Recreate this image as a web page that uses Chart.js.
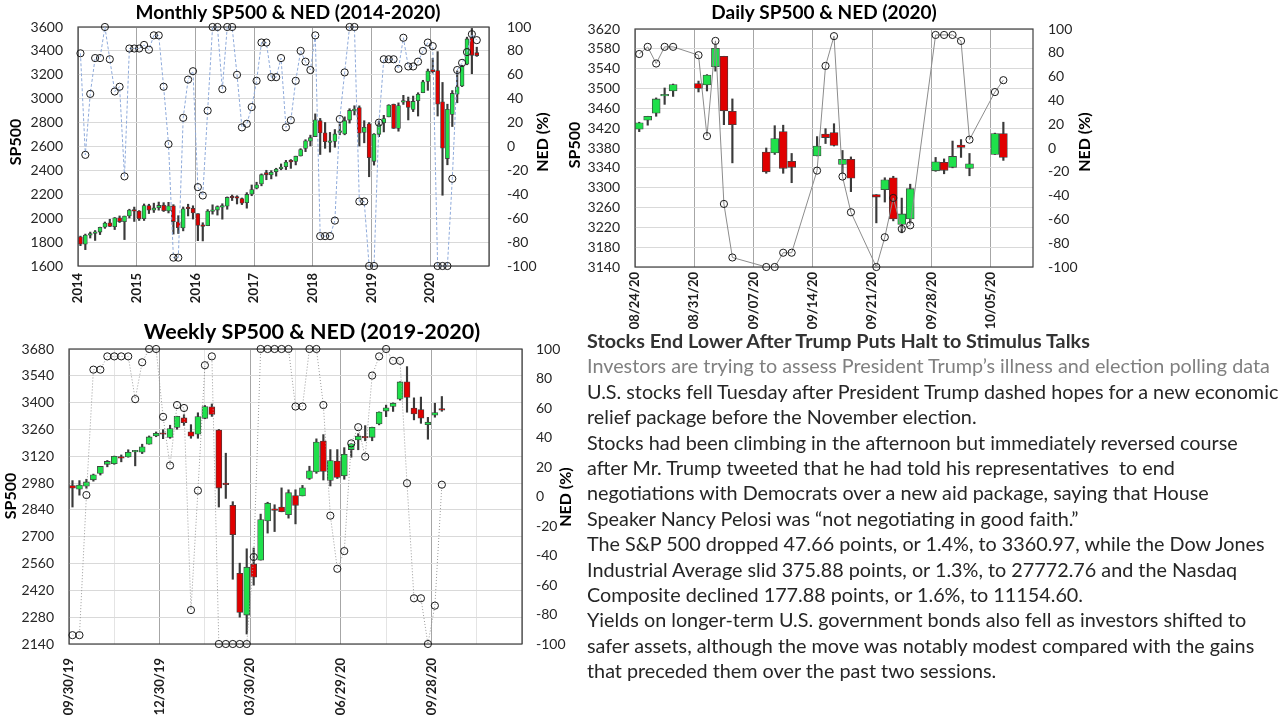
<!DOCTYPE html>
<html>
<head>
<meta charset="utf-8">
<script src="https://cdn.jsdelivr.net/npm/chart.js@4.4.1/dist/chart.umd.min.js"></script>
<style>
  body { margin: 0; width: 1280px; height: 720px; background: #fff; position: relative; overflow: hidden; font-family: Lato, "Open Sans", sans-serif; }
  .pane { position: absolute; }
  #news { position: absolute; left: 587px; top: 328px; font-size: 19.8px; line-height: 25.4px; color: #262626; white-space: nowrap; }
  #news .head { font-weight: bold; color: #333; }
  #news .sub { color: #808080; }
</style>
</head>
<body>
<div class="pane" style="left:0;top:0"><canvas id="monthly" width="560" height="315"></canvas></div>
<div class="pane" style="left:560px;top:0"><canvas id="daily" width="540" height="330"></canvas></div>
<div class="pane" style="left:0;top:315px"><canvas id="weekly" width="580" height="405"></canvas></div>

<div id="news">
  <div class="head">Stocks End Lower After Trump Puts Halt to Stimulus Talks</div>
  <div class="sub">Investors are trying to assess President Trump’s illness and election polling data</div>
  <div>U.S. stocks fell Tuesday after President Trump dashed hopes for a new economic</div>
  <div>relief package before the November election.</div>
  <div>Stocks had been climbing in the afternoon but immediately reversed course</div>
  <div>after Mr. Trump tweeted that he had told his representatives&nbsp; to end</div>
  <div>negotiations with Democrats over a new aid package, saying that House</div>
  <div>Speaker Nancy Pelosi was “not negotiating in good faith.”</div>
  <div>The S&amp;P 500 dropped 47.66 points, or 1.4%, to 3360.97, while the Dow Jones</div>
  <div>Industrial Average slid 375.88 points, or 1.3%, to 27772.76 and the Nasdaq</div>
  <div>Composite declined 177.88 points, or 1.6%, to 11154.60.</div>
  <div>Yields on longer-term U.S. government bonds also fell as investors shifted to</div>
  <div>safer assets, although the move was notably modest compared with the gains</div>
  <div>that preceded them over the past two sessions.</div>
</div>

<script>
// ---- monthly, Jan 2014 .. Oct 2020 ----
const monthlyYears = ["2014", "2015", "2016", "2017", "2018", "2019", "2020"];
const monthlyOpen = [
  1845, 1782, 1857, 1873, 1884, 1924, 1962, 1929, 2004, 1971, 2019, 2065,
  2059, 1996, 2105, 2067, 2087, 2109, 2061, 2104, 1970, 1919, 2081, 2083,
  2038, 1937, 1937, 2057, 2068, 2093, 2100, 2174, 2171, 2164, 2129, 2201,
  2251, 2286, 2381, 2362, 2388, 2415, 2431, 2477, 2475, 2521, 2583, 2645,
  2683, 2816, 2715, 2634, 2643, 2718, 2705, 2821, 2897, 2926, 2718, 2790,
  2476, 2702, 2798, 2848, 2953, 2751, 2972, 2980, 2910, 2983, 3051, 3144,
  3244, 3236, 2974, 2499, 2869, 3038, 3106, 3289, 3508, 3385
];
const monthlyHigh = [
  1850, 1867, 1884, 1897, 1925, 1968, 1991, 2006, 2019, 2018, 2075, 2093,
  2064, 2119, 2117, 2126, 2135, 2130, 2133, 2113, 2021, 2094, 2117, 2104,
  2038, 1962, 2072, 2112, 2103, 2121, 2178, 2194, 2188, 2169, 2214, 2278,
  2301, 2371, 2401, 2398, 2418, 2454, 2484, 2491, 2519, 2582, 2657, 2695,
  2873, 2835, 2801, 2718, 2742, 2791, 2848, 2916, 2941, 2940, 2816, 2800,
  2708, 2813, 2861, 2950, 2955, 2965, 3028, 3014, 3022, 3050, 3154, 3248,
  3338, 3394, 3136, 2954, 3068, 3233, 3280, 3515, 3588, 3431
];
const monthlyLow = [
  1770, 1737, 1834, 1814, 1863, 1915, 1930, 1905, 1964, 1821, 2002, 1973,
  1981, 1981, 2039, 2048, 2067, 2056, 2044, 1867, 1872, 1894, 2019, 1993,
  1812, 1810, 1937, 2034, 2026, 1992, 2075, 2148, 2119, 2114, 2084, 2188,
  2245, 2271, 2322, 2329, 2352, 2405, 2407, 2417, 2446, 2520, 2557, 2605,
  2683, 2533, 2585, 2553, 2594, 2698, 2698, 2796, 2864, 2604, 2631, 2347,
  2444, 2682, 2722, 2848, 2751, 2728, 2952, 2822, 2892, 2855, 3050, 3070,
  3215, 2855, 2192, 2447, 2767, 2966, 3101, 3284, 3209, 3354
];
const monthlyClose = [
  1783, 1859, 1872, 1884, 1924, 1960, 1931, 2003, 1972, 2018, 2068, 2059,
  1995, 2105, 2068, 2086, 2107, 2063, 2104, 1972, 1920, 2079, 2080, 2044,
  1940, 1932, 2060, 2065, 2097, 2099, 2174, 2171, 2168, 2126, 2199, 2239,
  2279, 2364, 2363, 2384, 2412, 2423, 2470, 2472, 2519, 2575, 2648, 2674,
  2824, 2714, 2641, 2648, 2705, 2718, 2816, 2902, 2914, 2712, 2760, 2507,
  2704, 2784, 2834, 2946, 2752, 2942, 2980, 2926, 2977, 3038, 3141, 3231,
  3226, 2954, 2585, 2912, 3044, 3100, 3271, 3500, 3363, 3361
];
const monthlyNed = [
  78, -7, 44, 74, 74, 100, 73, 46, 50, -25,
  82, 82, 82, 85, 81, 93, 93, 50, 2, -93,
  -93, 24, 56, 63, -34, -41, 30, 100, 100, 48,
  100, 100, 60, 16, 19, 33, 55, 87, 87, 58,
  58, 74, 16, 22, 55, 80, 71, 64, 93, -75,
  -75, -75, -62, 23, 62, 100, 100, -46, -46, -100,
  -100, 20, 73, 73, 73, 65, 91, 67, 67, 71,
  80, 87, 84, -100, -100, -100, -27, 64, 70, 79,
  94, 89
];

// ---- daily, 24 Aug .. 6 Oct 2020 ----
const dailyDates = [
  "08/24/20", "08/25/20", "08/26/20", "08/27/20", "08/28/20",
  "08/31/20", "09/01/20", "09/02/20", "09/03/20", "09/04/20",
  "09/08/20", "09/09/20", "09/10/20", "09/11/20",
  "09/14/20", "09/15/20", "09/16/20", "09/17/20", "09/18/20",
  "09/21/20", "09/22/20", "09/23/20", "09/24/20", "09/25/20",
  "09/28/20", "09/29/20", "09/30/20", "10/01/20", "10/02/20",
  "10/05/20", "10/06/20"
];
const dailyTicks = ["08/24/20", "08/31/20", "09/07/20", "09/14/20", "09/21/20", "09/28/20", "10/05/20"];
const dailyOpen = [3418, 3436, 3450, 3485, 3495, 3510, 3507, 3544, 3565, 3454, 3372, 3370, 3413, 3353, 3364, 3408, 3411, 3347, 3357, 3286, 3296, 3320, 3226, 3237, 3334, 3351, 3341, 3386, 3339, 3367, 3409];
const dailyHigh = [3432, 3444, 3481, 3501, 3509, 3515, 3528, 3588, 3565, 3479, 3380, 3425, 3426, 3369, 3403, 3419, 3429, 3375, 3362, 3286, 3320, 3323, 3279, 3307, 3361, 3358, 3394, 3397, 3369, 3410, 3432];
const dailyLow = [3413, 3426, 3444, 3468, 3484, 3493, 3495, 3535, 3427, 3350, 3329, 3367, 3329, 3310, 3364, 3389, 3384, 3329, 3292, 3229, 3271, 3233, 3209, 3228, 3333, 3328, 3340, 3361, 3324, 3367, 3355];
const dailyClose = [3431, 3444, 3479, 3485, 3508, 3500, 3527, 3581, 3455, 3427, 3332, 3399, 3339, 3341, 3384, 3401, 3385, 3357, 3319, 3281, 3316, 3237, 3247, 3298, 3352, 3335, 3363, 3381, 3348, 3409, 3361];
const dailyNed = [
  79, 85, 71, 85, 85, 78, 10, 90, -47, -92,
  -100, -100, -88, -88, -19, 69, 94, -24, -54, -100,
  -75, -42, -68, -65, 95, 95, 95, 90, 7, 47, 57
];

// ---- weekly, week of 30 Sep 2019 .. week of 5 Oct 2020 ----
const weeklyTicks = ["09/30/19", "12/30/19", "03/30/20", "06/29/20", "09/28/20"];
const weeklyOpen = [
  2967, 2948, 2964, 2997, 3030, 3078, 3081, 3118, 3117, 3143,
  3141, 3183, 3226, 3238, 3218, 3271, 3321, 3248, 3235, 3318,
  3378, 3257, 2974, 2864, 2509, 2291, 2558, 2578, 2782, 2846,
  2855, 2815, 2915, 2913, 3004, 3038, 3199, 2994, 3095, 3018,
  3155, 3205, 3224, 3219, 3289, 3356, 3380, 3418, 3509, 3372,
  3364, 3285, 3334, 3367
];
const weeklyHigh = [
  2993, 2993, 3000, 3027, 3067, 3098, 3121, 3127, 3154, 3151,
  3183, 3226, 3247, 3259, 3282, 3329, 3337, 3285, 3347, 3385,
  3393, 3260, 3136, 2883, 2562, 2637, 2641, 2818, 2880, 2867,
  2955, 2945, 2945, 2968, 3068, 3211, 3233, 3155, 3155, 3165,
  3186, 3238, 3280, 3272, 3352, 3387, 3399, 3509, 3588, 3425,
  3429, 3323, 3397, 3432
];
const weeklyLow = [
  2855, 2917, 2953, 2990, 3022, 3065, 3078, 3091, 3115, 3070,
  3134, 3183, 3222, 3212, 3214, 3261, 3281, 3214, 3214, 3316,
  3328, 2855, 2900, 2478, 2280, 2192, 2447, 2578, 2719, 2727,
  2830, 2797, 2767, 2913, 2999, 3031, 2996, 2965, 3004, 3000,
  3115, 3154, 3201, 3201, 3284, 3327, 3354, 3413, 3350, 3310,
  3292, 3209, 3324, 3355
];
const weeklyClose = [
  2953, 2970, 2986, 3023, 3067, 3093, 3120, 3110, 3141, 3146,
  3169, 3221, 3240, 3235, 3265, 3329, 3295, 3225, 3327, 3380,
  3338, 2954, 2972, 2711, 2305, 2541, 2489, 2790, 2875, 2837,
  2831, 2930, 2864, 2955, 3044, 3194, 3041, 3098, 3009, 3130,
  3185, 3225, 3216, 3271, 3351, 3373, 3397, 3508, 3427, 3341,
  3319, 3298, 3348, 3361
];
const weeklyNed = [
  -94, -94, 1, 86, 86, 95, 95, 95, 95, 66,
  91, 100, 100, 54, 21, 62, 60, -77, 4, 89,
  95, -100, -100, -100, -100, -100, -41, 100, 100, 100,
  100, 100, 61, 61, 100, 100, 62, -13, -49, -37,
  36, 47, 27, 82, 95, 100, 92, 92, 9, -69,
  -69, -100, -74, 8
];

const GREEN = "#1fe04b";
const RED = "#e00000";
const EDGE = "#404040";
const TXT = "#262626";
Chart.defaults.font.family = "Lato, 'Open Sans', sans-serif";
Chart.defaults.color = TXT;

// frame round the plot + titles drawn on the canvas
const decor = {
  id: "decor",
  beforeDatasetsDraw(chart) {
    const { ctx, chartArea: a } = chart;
    ctx.save();
    ctx.strokeStyle = EDGE;
    ctx.lineWidth = 1.2;
    ctx.strokeRect(a.left, a.top, a.right - a.left, a.bottom - a.top);
    ctx.restore();
  },
  afterDraw(chart, args, opts) {
    const ctx = chart.ctx;
    (opts.texts || []).forEach(t => {
      ctx.save();
      ctx.translate(t.x, t.y);
      if (t.rot) ctx.rotate(t.rot);
      ctx.font = t.font;
      ctx.fillStyle = "#000";
      ctx.textAlign = "center";
      ctx.textBaseline = "middle";
      ctx.fillText(t.text, 0, 0);
      ctx.restore();
    });
  }
};
Chart.register(decor);

const plain = v => String(v);

function candleChart(id, s) {
  const up = s.open.map((o, i) => s.close[i] >= o);
  return new Chart(document.getElementById(id), {
    type: "bar",
    data: {
      datasets: [
        {
          label: "High-Low",
          data: s.x.map((x, i) => ({ x, y: [s.low[i], s.high[i]] })),
          backgroundColor: "#3a3a3a",
          barThickness: 1.5,
          grouped: false,
          order: 3
        },
        {
          label: "Open-Close",
          data: s.x.map((x, i) => ({ x, y: [s.open[i], s.close[i]] })),
          backgroundColor: up.map(u => (u ? GREEN : RED)),
          borderColor: EDGE,
          borderWidth: 0.8,
          borderSkipped: false,
          barThickness: s.body,
          minBarLength: 1.5,
          grouped: false,
          order: 2
        },
        {
          type: "line",
          label: "NED",
          data: s.x.map((x, i) => ({ x, y: s.ned[i] })),
          yAxisID: "y1",
          borderColor: s.lineColor,
          borderWidth: 1,
          borderDash: s.dash,
          pointRadius: 3.6,
          pointBorderWidth: 1,
          pointBorderColor: "#1a1a1a",
          pointBackgroundColor: "rgba(255,255,255,0)",
          clip: false,
          order: 1
        }
      ]
    },
    options: {
      responsive: false,
      animation: false,
      layout: { padding: { top: s.top } },
      plugins: {
        legend: { display: false },
        tooltip: { enabled: false },
        decor: { texts: s.texts }
      },
      scales: {
        x: {
          type: "linear",
          min: 0,
          max: s.xMax,
          offset: false,
          afterBuildTicks: sc => { sc.ticks = s.xTicks.map(v => ({ value: v })); },
          afterFit: sc => { sc.height = s.xHeight; },
          ticks: {
            autoSkip: false,
            minRotation: 90,
            maxRotation: 90,
            padding: s.xPad,
            font: { size: 13, weight: "bold" },
            color: "#1a1a1a",
            callback: s.xLabel
          },
          grid: { offset: false, drawTicks: false, color: s.xGrid },
          border: { display: false }
        },
        y: {
          position: "left",
          min: s.yMin,
          max: s.yMax,
          afterFit: sc => { sc.width = s.left; },
          ticks: { stepSize: s.yStep, padding: 15, font: { size: 14 }, callback: plain },
          grid: { color: "#d9d9d9", drawTicks: false },
          border: { display: false }
        },
        y1: {
          position: "right",
          min: -100,
          max: 100,
          afterFit: sc => { sc.width = s.right; },
          ticks: { stepSize: 20, padding: s.rPad, font: { size: 14 }, callback: plain },
          grid: { drawOnChartArea: false, drawTicks: false },
          border: { display: false }
        }
      }
    }
  });
}

const HALF = Math.PI / 2;

candleChart("monthly", {
  x: monthlyOpen.map((v, i) => i + 0.5),
  open: monthlyOpen, high: monthlyHigh, low: monthlyLow, close: monthlyClose, ned: monthlyNed,
  body: 4, lineColor: "#8eaadb", dash: [3, 2],
  top: 27, left: 78, right: 71, xHeight: 49, xPad: 7,
  xMax: 84, xTicks: [0, 12, 24, 36, 48, 60, 72, 84],
  xLabel: v => monthlyYears[v / 12] || "",
  xGrid: "#a6a6a6",
  yMin: 1600, yMax: 3600, yStep: 200, rPad: 18,
  texts: [
    { text: "Monthly SP500 & NED (2014-2020)", x: 288, y: 13, font: "bold 19px Lato" },
    { text: "SP500", x: 16, y: 142, rot: -HALF, font: "bold 16px Lato" },
    { text: "NED (%)", x: 543, y: 142, rot: -HALF, font: "bold 16px Lato" }
  ]
});

function dayOf(s) {
  const [m, d, y] = s.split("/").map(Number);
  return (Date.UTC(2000 + y, m - 1, d) - Date.UTC(2020, 7, 24)) / 86400000;
}
const dailyTickDays = dailyTicks.map(dayOf);

candleChart("daily", {
  x: dailyDates.map(d => dayOf(d) + 0.5),
  open: dailyOpen, high: dailyHigh, low: dailyLow, close: dailyClose, ned: dailyNed,
  body: 8, lineColor: "#8c8c8c", dash: [],
  top: 29, left: 75, right: 67, xHeight: 63, xPad: 5,
  xMax: 47, xTicks: dailyTickDays,
  xLabel: v => dailyTicks[dailyTickDays.indexOf(v)] || "",
  xGrid: "#a6a6a6",
  yMin: 3140, yMax: 3620, yStep: 40, rPad: 15,
  texts: [
    { text: "Daily SP500 & NED (2020)", x: 264, y: 13, font: "bold 19px Lato" },
    { text: "SP500", x: 15, y: 145, rot: -HALF, font: "bold 16px Lato" },
    { text: "NED (%)", x: 525, y: 142, rot: -HALF, font: "bold 16px Lato" }
  ]
});

candleChart("weekly", {
  x: weeklyOpen.map((v, i) => i + 0.5),
  open: weeklyOpen, high: weeklyHigh, low: weeklyLow, close: weeklyClose, ned: weeklyNed,
  body: 6, lineColor: "#9a9a9a", dash: [1, 2],
  top: 34, left: 69, right: 58, xHeight: 76, xPad: 14,
  xMax: 65, xTicks: [0, 6.5, 13, 19.5, 26, 32.5, 39, 45.5, 52, 58.5, 65],
  xLabel: v => (v % 13 === 0 ? weeklyTicks[v / 13] || "" : ""),
  xGrid: c => (c.tick && c.tick.value % 13 === 0 ? "#a6a6a6" : "#e4e4e4"),
  yMin: 2140, yMax: 3680, yStep: 140, rPad: 14,
  texts: [
    { text: "Weekly SP500 & NED (2019-2020)", x: 312, y: 17, font: "bold 21.5px Lato" },
    { text: "SP500", x: 11, y: 181, rot: -HALF, font: "bold 16px Lato" },
    { text: "NED (%)", x: 566, y: 182, rot: -HALF, font: "bold 16px Lato" }
  ]
});
</script>
</body>
</html>
